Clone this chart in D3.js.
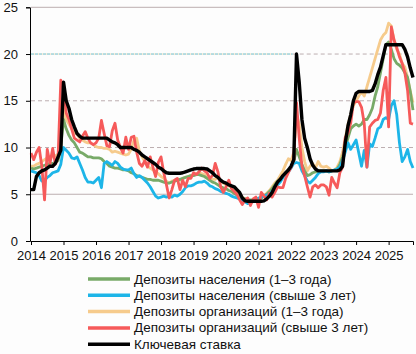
<!DOCTYPE html>
<html><head><meta charset="utf-8">
<script src="https://cdn.jsdelivr.net/npm/d3@7"></script>
<style>
html,body{margin:0;padding:0;background:#fdfdfd;}
svg{display:block;font-family:"Liberation Sans",Arial,sans-serif;}
</style></head>
<body><svg id="c" width="416" height="354"></svg>
<script>
// Monthly data, Jan 2014 .. Oct 2025
const startYear = 2014;
const yearTicks = [2014,2015,2016,2017,2018,2019,2020,2021,2022,2023,2024,2025];
const yTicks = [0,5,10,15,20,25];

const popShort = [ // Депозиты населения (1–3 года)
 7.8,7.7,7.8,7.9,8.0,8.1,8.2,8.3,8.3,8.4,8.6,10.0,
 13.0,12.0,11.3,10.8,10.5,10.0,9.5,9.4,9.2,9.0,9.0,8.9,
 8.9,8.9,8.8,8.5,8.3,8.0,7.9,7.8,7.8,7.7,7.6,7.6,
 7.5,7.3,7.2,7.0,6.9,6.8,6.7,6.6,6.6,6.5,6.5,6.5,
 6.4,6.3,6.2,6.2,6.3,6.4,6.5,6.6,6.7,6.8,6.9,7.0,
 7.0,7.1,7.1,7.0,6.9,6.7,6.5,6.3,6.2,6.0,5.8,5.7,
 5.6,5.4,5.3,5.1,4.9,4.7,4.6,4.5,4.4,4.4,4.4,4.5,
 4.5,4.6,4.8,5.0,5.3,5.6,6.0,6.4,6.6,6.9,7.2,7.6,
 7.9,8.5,9.8,9.0,8.2,7.5,7.0,7.1,7.3,7.4,7.5,7.5,
 7.5,7.5,7.4,7.5,7.6,7.7,8.2,9.0,10.0,11.0,12.0,12.3,
 12.5,12.3,12.5,13.0,13.0,13.5,14.2,15.5,16.5,18.0,19.5,21.0,
 21.3,20.5,19.5,19.0,18.8,18.5,18.0,17.5,16.0,14.0
];
const popLong = [ // Депозиты населения (свыше 3 лет)
 7.5,7.4,7.3,7.0,6.4,6.5,6.8,7.0,7.3,7.4,7.5,8.2,
 10.0,9.7,9.4,8.9,8.8,9.0,8.3,7.6,6.8,6.3,6.3,6.2,
 6.5,6.8,5.7,8.3,8.5,8.3,8.1,8.5,8.3,7.9,7.7,7.6,
 7.6,7.8,7.2,6.8,7.0,6.8,6.5,6.2,5.8,5.3,4.8,4.6,
 4.7,4.8,4.7,4.8,4.7,4.9,4.8,5.0,5.3,5.7,5.9,5.9,
 6.0,6.2,6.3,6.3,6.4,6.2,5.9,5.8,5.6,5.5,5.3,5.2,
 5.1,5.0,4.8,4.7,4.6,4.5,4.3,4.2,4.0,4.1,4.2,4.3,
 4.6,4.7,4.8,4.9,5.0,5.3,5.6,6.0,6.3,6.8,7.2,7.4,
 7.8,8.3,8.4,8.3,7.5,7.0,6.4,6.2,6.5,6.8,7.2,7.4,
 7.4,7.5,7.4,7.5,7.6,7.7,7.9,8.6,9.5,10.5,9.8,10.3,
 10.8,9.4,8.0,9.7,7.9,10.4,10.1,11.0,12.0,12.2,13.0,13.2,
 13.0,14.5,15.0,13.5,10.5,8.5,9.0,9.8,8.5,7.8
];
const orgShort = [ // Депозиты организаций (1–3 года)
 8.0,8.0,8.2,8.3,8.5,8.7,8.9,9.0,9.0,9.1,9.3,10.5,
 14.2,13.0,12.5,12.0,11.6,11.4,11.0,10.8,10.6,10.5,10.5,10.3,
 10.1,10.0,10.0,9.9,9.9,9.8,9.5,9.6,9.5,9.4,9.3,9.2,
 9.3,9.8,10.8,11.0,9.6,9.0,8.5,8.0,7.8,7.6,7.4,7.2,
 6.9,6.7,6.4,6.2,6.4,6.5,6.6,6.5,6.7,6.8,6.9,7.0,
 7.1,7.2,7.3,7.2,7.1,7.0,6.7,6.6,6.6,6.8,6.4,6.2,
 6.0,5.9,5.7,5.5,5.2,5.0,4.7,4.5,4.4,4.3,4.4,4.5,
 4.5,4.6,4.9,5.1,5.4,5.8,6.2,6.5,7.0,7.5,8.2,8.8,
 8.6,9.5,13.5,12.5,10.0,8.5,7.5,8.0,8.3,7.8,8.5,8.0,
 7.9,8.0,7.8,7.5,7.6,7.9,8.5,9.5,11.0,12.5,13.5,14.5,
 15.0,15.5,16.0,15.5,16.5,17.5,18.5,19.5,20.5,21.5,22.0,22.3,
 23.3,23.0,21.5,20.5,20.0,19.0,18.6,17.5,16.0,14.8
];
const orgLong = [ // Депозиты организаций (свыше 3 лет)
 9.4,8.7,9.5,10.0,8.0,4.4,9.8,8.3,9.9,8.2,9.0,17.2,
 16.5,13.7,13.0,12.0,11.0,10.8,10.6,11.2,11.7,11.0,10.5,10.3,
 10.5,11.0,12.9,11.5,10.2,10.1,11.8,12.6,10.8,10.0,9.4,11.1,
 9.8,11.1,11.2,9.5,8.3,8.0,8.6,7.9,9.0,7.9,6.9,8.4,
 9.0,7.3,6.0,4.6,5.5,6.5,6.7,5.5,6.5,5.8,6.7,6.7,
 7.3,7.1,7.4,7.8,7.5,7.3,6.7,7.0,8.3,7.4,5.8,5.2,
 5.8,6.5,5.6,5.3,5.0,4.4,3.9,4.4,4.6,3.8,4.5,4.7,
 3.6,5.2,4.8,4.4,5.1,4.7,5.2,5.8,5.7,5.7,6.7,7.3,
 7.9,8.7,14.8,11.0,8.0,7.0,5.8,4.7,5.8,6.0,5.7,6.0,
 6.0,5.8,4.9,6.8,6.2,5.7,7.3,7.9,11.1,11.5,12.6,14.8,
 14.9,14.9,14.3,12.6,7.9,12.2,12.6,12.9,13.0,13.7,16.1,17.5,
 12.2,22.9,21.5,20.7,19.7,19.0,18.0,16.1,12.6,12.5
];
const keyRate = [ // Ключевая ставка
 5.5,5.5,6.9,7.3,7.5,7.6,7.8,8.0,8.0,8.3,9.0,9.7,
 17.0,15.0,14.2,13.0,12.2,11.5,11.2,11.0,11.0,11.0,11.0,11.0,
 11.0,11.0,11.0,11.0,11.0,10.8,10.6,10.5,10.3,10.0,10.0,10.0,
 10.0,10.0,9.8,9.7,9.5,9.2,9.0,8.8,8.6,8.4,8.2,7.9,
 7.75,7.5,7.3,7.25,7.25,7.25,7.25,7.25,7.3,7.4,7.5,7.6,
 7.7,7.75,7.75,7.75,7.75,7.7,7.5,7.3,7.0,6.8,6.5,6.3,
 6.2,6.0,5.9,5.8,5.5,5.2,4.6,4.3,4.25,4.25,4.25,4.25,
 4.25,4.25,4.3,4.5,4.8,5.2,5.8,6.3,6.6,7.0,7.3,7.6,
 8.0,8.7,20.0,17.0,13.0,11.0,10.0,8.8,8.1,7.7,7.5,7.5,
 7.5,7.5,7.5,7.5,7.5,7.5,7.6,8.0,10.5,12.3,13.5,15.0,
 15.8,16.0,16.0,16.0,16.0,16.0,16.1,16.8,17.8,18.6,19.8,21.0,
 21.0,21.0,21.0,21.0,21.0,21.0,20.5,19.7,18.5,17.5
];

const seriesNames = ["Депозиты населения (1–3 года)","Депозиты населения (свыше 3 лет)","Депозиты организаций (1–3 года)","Депозиты организаций (свыше 3 лет)","Ключевая ставка"];
const seriesData = [popShort, popLong, orgShort, orgLong, keyRate];
const seriesColors = ["#78aa68","#1db5e8","#f6cb8c","#f65a5a","#000000"];
const drawOrder = [2,0,1,3,4];

const svg = d3.select("#c");
const x = d3.scaleLinear().domain([2014, 2025.75]).range([31, 413]);
const y = d3.scaleLinear().domain([0, 25]).range([241, 7.3]);

// gridlines
const grid = svg.append("g");
yTicks.filter(v=>v>0).forEach(v=>{
  const dashed = (v===10||v===15||v===20);
  grid.append("line").attr("x1",x(v===20?2022.05:2014)).attr("x2",x(2025.75))
    .attr("y1",y(v)).attr("y2",y(v))
    .attr("stroke","#bcaeb0").attr("stroke-width",1)
    .attr("stroke-dasharray",dashed?"4,3":null);
});
// the 20 line is coloured on its left part in the reference
grid.append("line").attr("x1",x(2014)).attr("x2",x(2022.05))
  .attr("y1",y(20)).attr("y2",y(20)).attr("stroke","#f7dcb4").attr("stroke-width",1);
grid.append("line").attr("x1",x(2014)).attr("x2",x(2022.05))
  .attr("y1",y(20)).attr("y2",y(20)).attr("stroke","#74cbe8").attr("stroke-width",1)
  .attr("stroke-dasharray","3,1");

// lines
const line = d3.line().x((d,i)=>x(startYear + i/12)).y(d=>y(d)).curve(d3.curveLinear);
drawOrder.forEach(k=>{
  svg.append("path").datum(seriesData[k]).attr("d",line)
    .attr("fill","none").attr("stroke",seriesColors[k])
    .attr("stroke-width", k===4?3.4:2.8)
    .attr("stroke-linejoin","round").attr("stroke-linecap","butt");
});

// axes
const yAxis = svg.append("g").attr("transform",`translate(${x(2014)-1},0)`)
  .call(d3.axisLeft(y).tickValues(yTicks).tickSize(4).tickFormat(d3.format("d")));
const xAxis = svg.append("g").attr("transform",`translate(0,${y(0)})`)
  .call(d3.axisBottom(x).tickValues(yearTicks).tickSize(4).tickFormat(d3.format("d")));
[yAxis,xAxis].forEach(a=>{
  a.select(".domain").attr("stroke","#000").attr("stroke-width",1);
  a.selectAll(".tick line").attr("stroke","#000");
  a.selectAll("text").attr("fill","#111").style("font-size","13px")
   .style("font-family","'Liberation Sans',Arial,sans-serif");
});
yAxis.selectAll("text").attr("x",-12);
xAxis.selectAll("text").attr("y",10);

// legend
const lg = svg.append("g");
seriesNames.forEach((n,k)=>{
  const ly = 279 + k*16.3;
  lg.append("line").attr("x1",88).attr("x2",130).attr("y1",ly).attr("y2",ly)
    .attr("stroke",seriesColors[k]).attr("stroke-width",3.5);
  lg.append("text").attr("x",134).attr("y",ly+4.5).text(n)
    .attr("fill","#111").style("font-size","13.5px");
});
</script></body></html>
